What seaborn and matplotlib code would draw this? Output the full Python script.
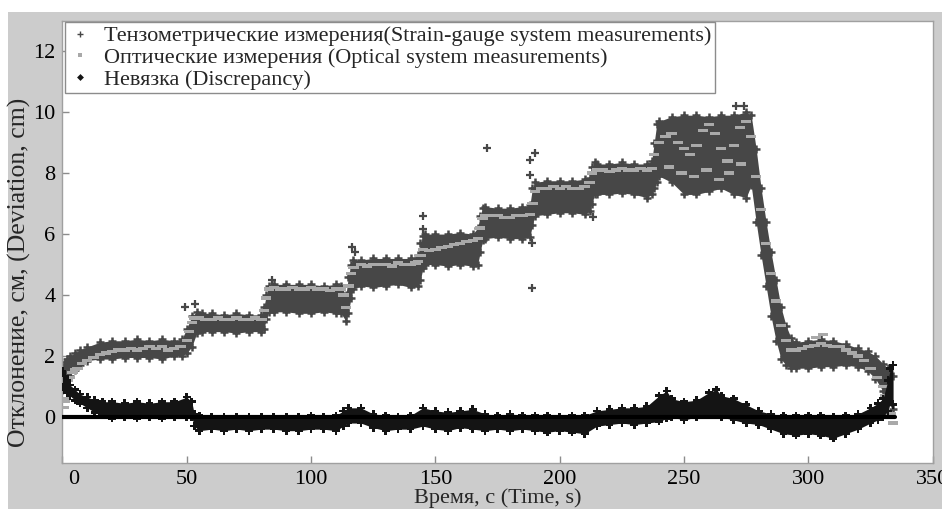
import numpy as np
import pandas as pd
import seaborn as sns
import matplotlib.pyplot as plt
from matplotlib.lines import Line2D
from matplotlib.patches import Rectangle
from matplotlib.transforms import ScaledTranslation

# strain-gauge band: time, lower and upper edge of the cloud (cm)
strain_t = [0, 1, 2, 3, 5, 7, 10, 15, 20, 25, 30, 35, 40, 45, 48, 50, 52, 54, 56, 60,
            65, 70, 75, 80, 81, 82, 83, 85, 90, 95, 100, 105, 110, 112, 114, 115, 116, 117,
            120, 125, 130, 135, 140, 143, 144, 145, 146, 150, 155, 160, 165, 167, 168, 169,
            170, 175, 180, 185, 188, 189, 190, 195, 200, 205, 210, 212, 213, 214, 215, 220,
            225, 230, 235, 237, 238, 239, 240, 245, 250, 255, 260, 265, 270, 275, 277, 279,
            281, 283, 285, 287, 289, 291, 293, 295, 300, 305, 310, 315, 320, 324, 327, 330,
            332, 334]
strain_lo = [0.9, 1.0, 1.2, 1.35, 1.55, 1.7, 1.85, 1.9, 1.9, 1.95, 1.95, 1.95, 1.9, 2.0, 2.0,
             2.1, 2.3, 2.75, 2.8, 2.8, 2.8, 2.75, 2.8, 2.8, 2.9, 3.2, 3.45, 3.45, 3.45, 3.4,
             3.4, 3.45, 3.4, 3.4, 3.15, 3.4, 3.9, 4.2, 4.3, 4.25, 4.3, 4.35, 4.25, 4.3, 4.5,
             4.9, 5.0, 5.0, 4.95, 5.0, 4.95, 5.0, 5.4, 5.8, 5.85, 5.9, 5.85, 5.85, 5.9, 6.3,
             6.6, 6.65, 6.7, 6.7, 6.65, 6.75, 7.0, 7.3, 7.3, 7.3, 7.35, 7.3, 7.2, 7.3, 7.5,
             7.7, 7.9, 7.7, 7.3, 7.3, 7.4, 7.5, 7.3, 7.2, 7.6, 6.4, 5.3, 4.3, 3.3, 2.5, 1.9,
             1.7, 1.6, 1.6, 1.6, 1.65, 1.65, 1.7, 1.65, 1.5, 1.25, 0.85, 0.45, 0.25]
strain_hi = [1.7, 1.8, 1.9, 2.0, 2.1, 2.2, 2.3, 2.45, 2.5, 2.5, 2.55, 2.5, 2.55, 2.5, 2.55,
             2.9, 3.3, 3.45, 3.4, 3.4, 3.35, 3.4, 3.35, 3.35, 3.6, 4.0, 4.3, 4.35, 4.35, 4.35,
             4.35, 4.3, 4.35, 4.3, 4.0, 4.6, 5.0, 5.15, 5.15, 5.2, 5.2, 5.2, 5.2, 5.3, 5.7,
             5.95, 6.0, 6.0, 6.0, 6.05, 6.0, 6.2, 6.6, 6.85, 6.9, 6.85, 6.85, 6.9, 6.95, 7.5,
             7.7, 7.75, 7.75, 7.75, 7.8, 7.85, 8.2, 8.35, 8.3, 8.3, 8.35, 8.3, 8.3, 8.4, 9.0,
             9.6, 9.7, 9.85, 9.9, 9.9, 9.85, 9.9, 9.9, 10.0, 9.9, 8.8, 7.5, 6.4, 5.4, 4.5, 3.6,
             3.0, 2.6, 2.45, 2.5, 2.55, 2.5, 2.4, 2.25, 2.15, 2.0, 1.75, 1.6, 1.35]

# isolated strain-gauge readings outside the band
spike_t = [49.3, 53.3, 84.2, 116.4, 117.5, 145.2, 145.2, 170.7, 190.0, 188.0, 188.0, 189.0,
           189.0, 213.3, 271.0, 274.0]
spike_v = [3.6, 3.72, 4.48, 5.57, 5.4, 6.6, 6.18, 8.83, 8.67, 8.42, 7.94, 4.23, 5.7, 6.55,
           10.2, 10.2]

# optical system readings
opt_t = [0, 0.5, 1, 2, 3, 4, 5, 6, 8, 10, 12.5, 15, 17.5, 20, 22.5, 25, 27.5, 30, 32.5, 35,
         37.5, 40, 42.5, 45, 47.5, 50, 51, 52, 53, 55, 57.5, 60, 62.5, 65, 67.5, 70, 72.5, 75,
         77.5, 80, 81, 82, 83, 85, 87.5, 90, 92.5, 95, 97.5, 100, 102.5, 105, 107.5, 110, 112,
         113, 114, 115, 116, 117, 120, 122.5, 125, 127.5, 130, 132.5, 135, 137.5, 140, 142,
         143, 144, 145, 147.5, 150, 152.5, 155, 157.5, 160, 162.5, 165, 167, 168, 169, 170,
         172.5, 175, 177.5, 180, 182.5, 185, 188, 189, 190, 192.5, 195, 197.5, 200, 202.5, 205,
         207.5, 210, 212, 213, 215, 217.5, 220, 222.5, 225, 227.5, 230, 232.5, 235, 237, 238,
         240, 242.5, 245, 247.5, 250, 252.5, 255, 257.5, 260, 262.5, 265, 267.5, 270, 272.5,
         275, 277, 279, 281, 283, 285, 287, 289, 291, 293, 295, 297.5, 300, 302.5, 305, 307.5,
         310, 312.5, 315, 317.5, 320, 322.5, 325, 327.5, 330, 331, 332, 333, 334,
         0.5, 1, 1.5, 244, 249, 254, 259, 264, 268, 273, 303, 306]
opt_v = [0.0, 0.6, 0.9, 1.2, 1.3, 1.45, 1.55, 1.6, 1.75, 1.85, 1.95, 2.05, 2.1, 2.15, 2.2,
         2.2, 2.25, 2.2, 2.25, 2.3, 2.25, 2.3, 2.2, 2.25, 2.3, 2.5, 2.8, 3.1, 3.25, 3.25, 3.2,
         3.2, 3.25, 3.2, 3.2, 3.25, 3.2, 3.2, 3.25, 3.2, 3.5, 3.9, 4.2, 4.25, 4.2, 4.2, 4.25,
         4.2, 4.2, 4.25, 4.2, 4.2, 4.15, 4.2, 4.2, 4.0, 3.6, 4.3, 4.7, 4.9, 5.0, 4.95, 5.0,
         5.0, 5.0, 4.95, 5.05, 5.0, 5.0, 5.05, 5.1, 5.3, 5.5, 5.45, 5.5, 5.55, 5.6, 5.65,
         5.7, 5.75, 5.8, 5.85, 6.2, 6.5, 6.6, 6.6, 6.6, 6.55, 6.55, 6.6, 6.6, 6.65, 7.0, 7.4,
         7.5, 7.5, 7.55, 7.5, 7.55, 7.5, 7.5, 7.55, 7.7, 8.0, 8.1, 8.1, 8.05, 8.1, 8.15, 8.1,
         8.1, 8.15, 8.1, 8.15, 8.6, 9.0, 9.2, 9.3, 9.0, 8.8, 8.6, 8.9, 9.4, 9.6, 9.3, 8.8,
         8.4, 8.9, 9.5, 9.7, 9.2, 7.9, 6.8, 5.7, 4.7, 3.8, 3.0, 2.5, 2.2, 2.2, 2.25, 2.3,
         2.35, 2.4, 2.35, 2.3, 2.3, 2.2, 2.1, 2.0, 1.85, 1.6, 1.3, 1.0, 0.7, 0.4, 0.1, -0.2,
         0.3, 0.5, 1.0, 8.2, 8.0, 7.9, 8.1, 7.8, 8.0, 8.3, 2.6, 2.7]

# discrepancy band: time, lower and upper edge (cm)
disc_t = [0, 1, 2, 3, 5, 7, 10, 13, 16, 20, 25, 30, 35, 40, 45, 50, 52, 53, 55, 60, 65, 70,
          75, 80, 85, 90, 95, 100, 105, 110, 113, 115, 120, 125, 130, 135, 140, 145, 150, 155,
          160, 165, 170, 175, 180, 185, 190, 195, 200, 205, 210, 215, 220, 225, 230, 235, 240,
          243, 245, 250, 255, 260, 263, 265, 270, 275, 280, 285, 290, 295, 300, 305, 310, 315,
          320, 325, 328, 330, 332, 333, 334]
disc_lo = [1.0, 0.9, 0.8, 0.7, 0.55, 0.45, 0.3, 0.15, 0.05, -0.05, 0.0, -0.05, 0.0, -0.05,
           0.0, 0.0, 0.0, -0.3, -0.45, -0.4, -0.45, -0.4, -0.45, -0.4, -0.4, -0.45, -0.45,
           -0.4, -0.4, -0.45, -0.3, -0.2, -0.2, -0.35, -0.45, -0.4, -0.4, -0.3, -0.4, -0.45,
           -0.35, -0.4, -0.45, -0.4, -0.45, -0.4, -0.45, -0.5, -0.45, -0.5, -0.55, -0.3,
           -0.25, -0.2, -0.25, -0.2, -0.15, -0.05, 0.0, -0.1, 0.0, 0.05, 0.1, 0.0, -0.1,
           -0.2, -0.25, -0.4, -0.55, -0.6, -0.55, -0.6, -0.7, -0.55, -0.4, -0.2, -0.1, 0.0,
           0.2, 0.5, 0.4]
disc_hi = [1.5, 1.35, 1.2, 1.05, 0.9, 0.75, 0.65, 0.55, 0.5, 0.5, 0.45, 0.5, 0.45, 0.5, 0.5,
           0.65, 0.5, 0.1, 0.05, 0.0, 0.0, 0.0, 0.0, 0.0, 0.0, 0.0, 0.0, 0.05, 0.0, 0.05, 0.2,
           0.3, 0.3, 0.1, 0.05, 0.0, 0.05, 0.3, 0.2, 0.15, 0.2, 0.25, 0.1, 0.05, 0.1, 0.05,
           0.05, 0.05, 0.0, 0.05, 0.05, 0.2, 0.25, 0.3, 0.3, 0.35, 0.7, 0.85, 0.6, 0.5, 0.55,
           0.8, 0.9, 0.7, 0.6, 0.4, 0.2, 0.1, 0.05, 0.05, 0.05, 0.05, 0.0, 0.05, 0.1, 0.3,
           0.45, 0.6, 1.2, 1.6, 1.7]

# zero reference of the discrepancy
zero_t = [0, 335]
zero_v = [0, 0]

labels = ['Тензометрические измерения(Strain-gauge system measurements)',
          'Оптические измерения (Optical system measurements)',
          'Невязка (Discrepancy)']

c_strain = '#474747'
c_opt = '#a9a9a9'
c_disc = '#141414'

sns.set_theme(style='white')
plt.rcParams['font.family'] = ['Liberation Serif', 'DejaVu Serif']

fig = plt.figure(figsize=(9.42, 5.09), dpi=100, facecolor='white')
fig.patches.append(Rectangle((8 / 942, 0), 1, 497 / 509, transform=fig.transFigure,
                             facecolor='#cccccc', edgecolor='none', zorder=-10))
ax = fig.add_axes([0.0663, 0.091, 0.9238, 0.8683])
ax.set_facecolor('white')

# strain-gauge cloud
ax.fill_between(strain_t, strain_lo, strain_hi, color=c_strain, lw=0, zorder=2)
edge = pd.DataFrame({'t': strain_t * 2, 'v': strain_lo + strain_hi})
sns.scatterplot(data=edge, x='t', y='v', marker='+', s=36, color=c_strain, linewidth=1.8,
                ax=ax, zorder=2)
sns.scatterplot(x=spike_t, y=spike_v, marker='+', s=30, color=c_strain, linewidth=1.6,
                ax=ax, zorder=2)

# optical dashes
dash = [(-2.2, -0.7), (2.2, -0.7), (2.2, 0.7), (-2.2, 0.7)]
sns.scatterplot(x=opt_t, y=opt_v, marker=dash, s=55, color=c_opt, edgecolor='none',
                ax=ax, zorder=3)

# discrepancy cloud
ax.fill_between(disc_t, disc_lo, disc_hi, color=c_disc, lw=0, zorder=4)
dedge = pd.DataFrame({'t': disc_t * 2, 'v': disc_lo + disc_hi})
sns.scatterplot(data=dedge, x='t', y='v', marker='P', s=32, color=c_disc, edgecolor='none',
                ax=ax, zorder=4)
sns.lineplot(x=zero_t, y=zero_v, color='black', lw=3, ax=ax, zorder=5)

ax.set_xlim(0, 350)
ax.set_ylim(-1.5, 13)
ax.set_xticks(np.arange(0, 351, 50))
ax.set_yticks(np.arange(0, 13, 2))
ax.tick_params(direction='in', length=5, width=1, color='#8c8c8c', labelsize=16,
               labelcolor='black', pad=5, bottom=True, left=True, top=False, right=False)
for s in ax.spines.values():
    s.set_color('#a0a0a0')
    s.set_linewidth(1)
lab0 = ax.get_xticklabels()[0]
lab0.set_transform(lab0.get_transform() + ScaledTranslation(0.11, 0, fig.dpi_scale_trans))

ax.set_xlabel('Время, с (Time, s)', fontsize=16, labelpad=0)
ax.set_ylabel('Отклонение, см, (Deviation, cm)', fontsize=18.5)
ax.yaxis.set_label_coords(-0.036, 0.43)

handles = [Line2D([], [], ls='none', marker='+', ms=5, mew=1, color=c_strain),
           Line2D([], [], ls='none', marker='s', ms=3, mew=0, color=c_opt),
           Line2D([], [], ls='none', marker='D', ms=3.5, mew=0, color=c_disc)]
leg = ax.legend(handles, labels, loc='upper left', bbox_to_anchor=(0.003, 0.996),
                borderaxespad=0, fontsize=16, frameon=True, fancybox=False,
                edgecolor='#8c8c8c', framealpha=1, handlelength=1.0, handletextpad=0.6,
                borderpad=0.15, labelspacing=0.05)
leg.get_frame().set_linewidth(1)
leg.set_zorder(10)

plt.savefig('out.png', dpi=100, facecolor=fig.get_facecolor())
plt.close()
